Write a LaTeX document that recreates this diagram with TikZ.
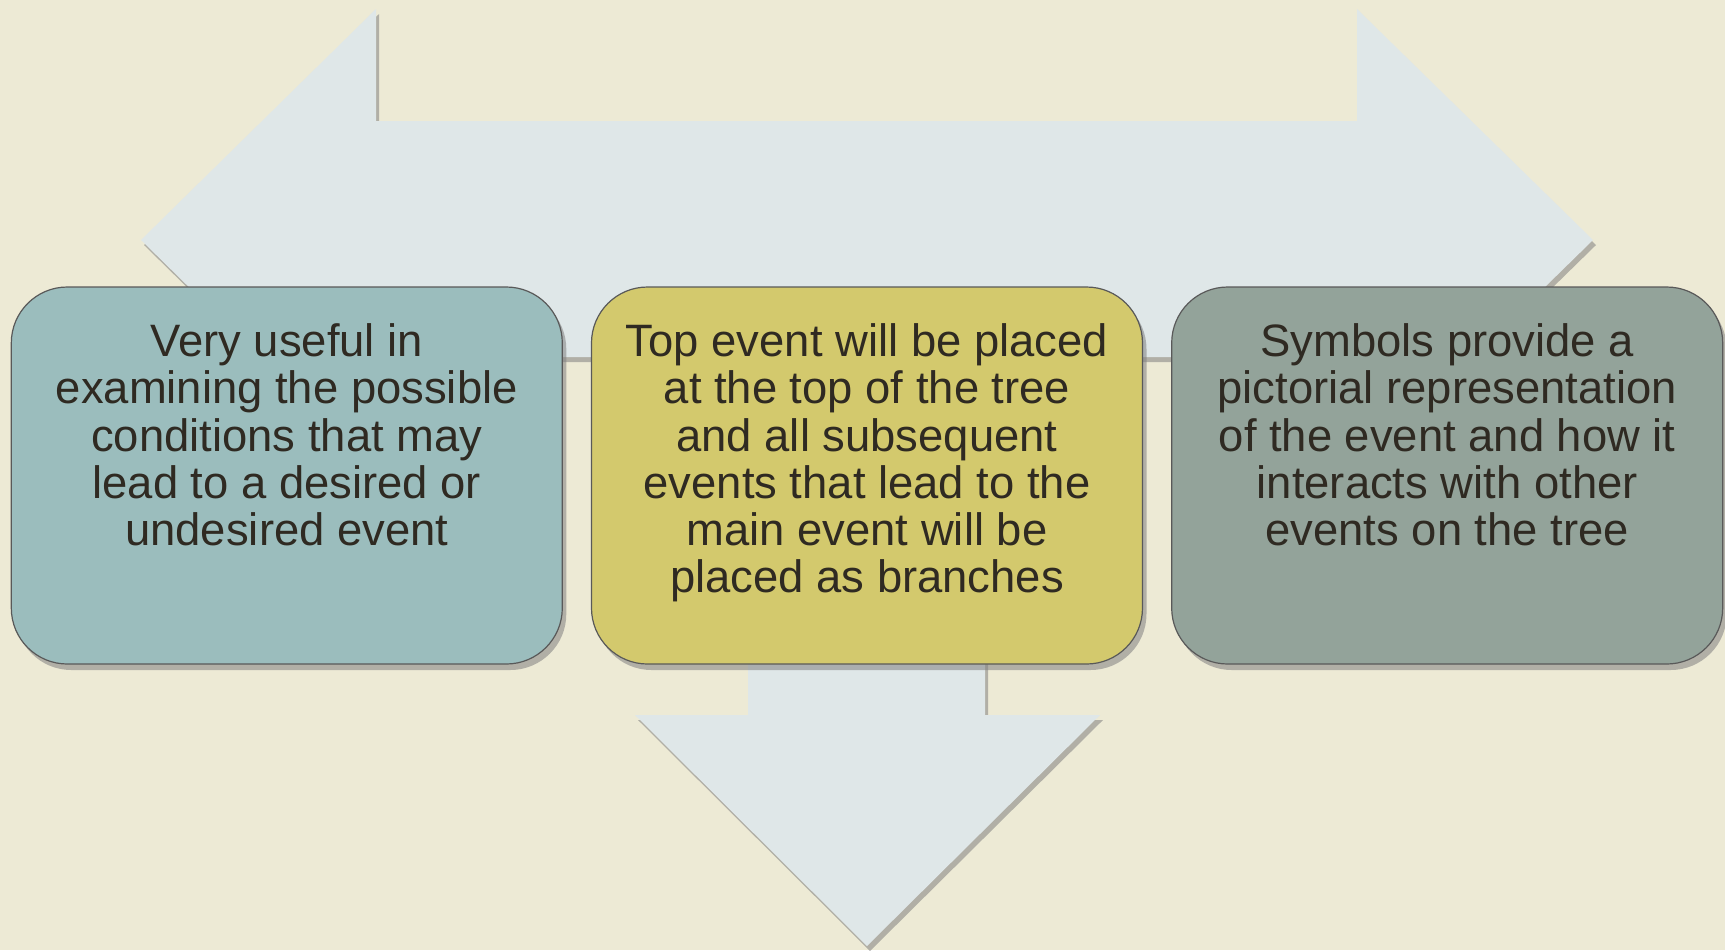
\documentclass[tikz,border=0pt]{standalone}
\usepackage{fontspec}
\setmainfont{Liberation Sans}
\usetikzlibrary{positioning,shadows}
\definecolor{Paper}{HTML}{EDEAD5}
\definecolor{Arrow}{HTML}{DFE7E8}
\definecolor{Teal}{HTML}{9BBDBD}
\definecolor{Olive}{HTML}{D3C96D}
\definecolor{Sage}{HTML}{93A39A}
\definecolor{Ink}{HTML}{2F2A22}
\tikzset{
  card/.style={draw=black!65,line width=.6pt,rounded corners=28pt,
    minimum width=275.5pt,minimum height=188.5pt,inner sep=0pt,
    drop shadow={shadow xshift=2pt,shadow yshift=-3pt,opacity=.55}},
  cardtext/.style={text=Ink,align=center,inner sep=0pt,
    font=\fontsize{22.7}{23.6}\selectfont},
}

\begin{document}
\begin{tikzpicture}[x=0.5pt,y=-0.5pt,node distance=14pt]
  \fill[Paper] (0,0) rectangle (1725,950);
  \useasboundingbox (0,0) rectangle (1725,950);
  % three-way arrow behind the cards
  \fill[Arrow,drop shadow={shadow xshift=1.5pt,shadow yshift=-2.5pt,opacity=.55}]
    (141,240) -- (376,9) -- (376,121) -- (1357,121) -- (1357,9) -- (1593,240)
    -- (1357,471) -- (1357,357) -- (985,357) -- (985,715) -- (1100,715)
    -- (867,946) -- (635,715) -- (748,715) -- (748,357) -- (376,357)
    -- (376,471) -- cycle;
  % cards
  \node[card,fill=Olive] (b2) at (867,475.5) {};
  \node[card,fill=Teal,left=of b2] (b1) {};
  \node[card,fill=Sage,right=of b2] (b3) {};
  \node[cardtext,below=18.5pt of b1.north] (t1) {Very useful in\\examining the possible\\conditions that may\\lead to a desired or\\undesired event};
  \node[cardtext,below=18.5pt of b2.north] (t2) {Top event will be placed\\at the top of the tree\\and all subsequent\\events that lead to the\\main event will be\\placed as branches};
  \node[cardtext,below=18.5pt of b3.north] (t3) {Symbols provide a\\pictorial representation\\of the event and how it\\interacts with other\\events on the tree};
\end{tikzpicture}
\end{document}
